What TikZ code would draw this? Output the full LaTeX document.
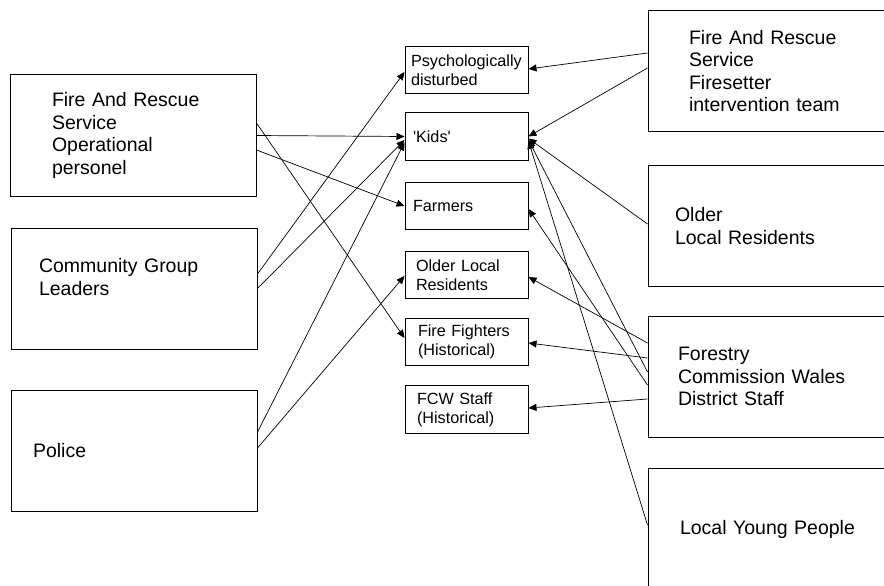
\documentclass[tikz,border=0pt]{standalone}
\usepackage{fontspec}
\setmainfont{Liberation Sans}
\usetikzlibrary{arrows.meta}

\begin{document}
\begin{tikzpicture}[x=1pt,y=-1pt,
                big/.style={draw,line width=1pt,minimum width=246pt,minimum height=121pt,inner sep=0pt,align=left,font=\fontsize{19.5}{22.6}\selectfont},
                side/.style={big,minimum width=250pt},
                small/.style={draw,line width=1pt,minimum width=123pt,minimum height=47.5pt,inner sep=0pt,align=left,font=\fontsize{16.2}{19}\selectfont},
                link/.style={line width=0.7pt,-{Triangle[length=8pt,width=7pt]}}]
                \path[use as bounding box,clip](0,0)rectangle(884,586);
                % left column
                \node[big,text width=162pt](op)at(133,135.5){Fire And Rescue\\Service\\Operational\\personel};
                \node[big,text width=190pt](cgl)at(134,288.5){Community Group\\Leaders\\~};
                \node[big,text width=202pt](police)at(134,451){Police};
                % middle column
                \node[small,text width=111pt](psych)at(466.5,70){Psychologically\\disturbed};
                \node[small,text width=107pt](kids)at(466.5,136.5){\textquotesingle Kids\textquotesingle};
                \node[small,text width=107pt](farmers)at(466.5,206){Farmers};
                \node[small,text width=101pt](olr)at(466.5,275){Older Local\\Residents};
                \node[small,text width=97pt](ff)at(466.5,342){Fire Fighters\\(Historical)};
                \node[small,text width=99pt](fcw)at(466.5,409.5){FCW Staff\\(Historical)};
                % right column
                \node[side,text width=168pt](fst)at(773,71){Fire And Rescue\\Service\\Firesetter\\intervention team};
                \node[side,text width=196pt](older)at(773,226){Older\\Local Residents};
                \node[side,text width=190pt](fcws)at(773,376.5){Forestry\\Commission Wales\\District Staff};
                \node[side,text width=186pt](young)at(773,529){Local Young People};
                \draw[link](op.east)--(kids.west);
                \draw[link]([yshift=-14.5pt]op.east)--(farmers.west);
                \draw[link]([yshift=12.5pt]op.east)--([yshift=4pt]ff.west);
                \draw[link]([yshift=14.5pt]cgl.east)--([yshift=-2pt]psych.west);
                \draw[link](cgl.east)--([yshift=-3.5pt]kids.west);
                \draw[link]([yshift=19pt]police.east)--([yshift=-6pt]kids.west);
                \draw[link]([yshift=3pt]police.east)--([yshift=-1pt]olr.west);
                \draw[link]([yshift=18pt]fst.west)--([yshift=1pt]psych.east);
                \draw[link]([yshift=3pt]fst.west)--(kids.east);
                \draw[link]([yshift=2pt]older.west)--([yshift=-2pt]kids.east);
                \draw[link]([yshift=33.5pt]fcws.west)--([yshift=-2pt]olr.east);
                \draw[link]([yshift=18.5pt]fcws.west)--([yshift=-1pt]ff.east);
                \draw[link]([yshift=4.5pt]fcws.west)--([yshift=-3.5pt]kids.east);
                \draw[link]([yshift=-8.5pt]fcws.west)--([yshift=-3pt]farmers.east);
                \draw[link]([yshift=-22.5pt]fcws.west)--([yshift=1.5pt]fcw.east);
                \draw[link]([yshift=4pt]young.west)--([yshift=-4.5pt]kids.east);
                \end{tikzpicture}
\end{document}
